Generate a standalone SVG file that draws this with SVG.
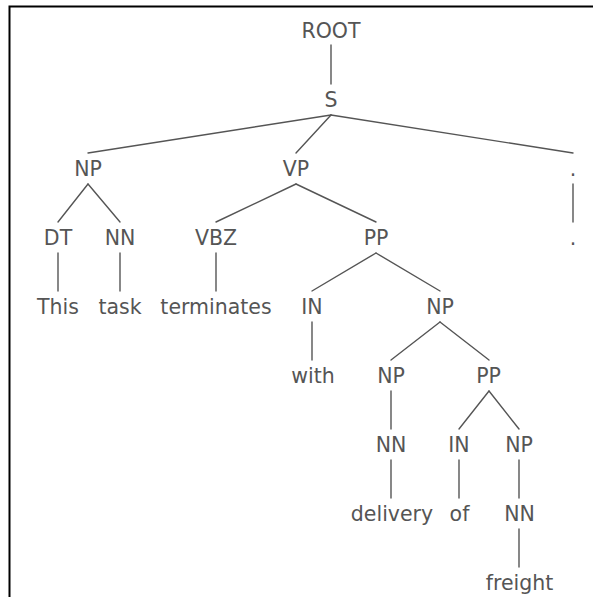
<svg xmlns="http://www.w3.org/2000/svg" width="593" height="597" viewBox="0 0 593 597">
<style>
text{font-family:"DejaVu Sans",Verdana,sans-serif;font-size:20.5px;fill:#555;text-anchor:middle}
.e line{stroke:#555;stroke-width:1.4;stroke-linecap:round}
</style>
<rect width="593" height="597" fill="#fff"/>
<path d="M9.5,597V6.5H593" fill="none" stroke="#000" stroke-width="2"/>
<g class="e" id="edges">
<line x1="331" y1="45" x2="331" y2="84"/>
<line x1="331" y1="115" x2="88" y2="153"/>
<line x1="331" y1="115" x2="296" y2="153"/>
<line x1="331" y1="115" x2="573" y2="153"/>
<line x1="88" y1="184" x2="58" y2="222"/>
<line x1="88" y1="184" x2="120" y2="222"/>
<line x1="58" y1="253" x2="58" y2="291"/>
<line x1="120" y1="253" x2="120" y2="291"/>
<line x1="296" y1="184" x2="216" y2="222"/>
<line x1="296" y1="184" x2="376" y2="222"/>
<line x1="573" y1="184" x2="573" y2="222"/>
<line x1="216" y1="253" x2="216" y2="291"/>
<line x1="376" y1="253" x2="312" y2="291"/>
<line x1="376" y1="253" x2="440" y2="291"/>
<line x1="312" y1="322" x2="312" y2="360"/>
<line x1="440" y1="322" x2="391" y2="360"/>
<line x1="440" y1="322" x2="489" y2="360"/>
<line x1="391" y1="391" x2="391" y2="429"/>
<line x1="489" y1="391" x2="459" y2="429"/>
<line x1="489" y1="391" x2="519" y2="429"/>
<line x1="391" y1="460" x2="391" y2="498"/>
<line x1="459" y1="460" x2="459" y2="498"/>
<line x1="519" y1="460" x2="519" y2="498"/>
<line x1="519" y1="529" x2="519" y2="567"/>
</g>
<g id="n-root"><text x="331" y="38">ROOT</text></g>
<g id="n-s"><text x="331" y="107">S</text></g>
<g id="n-np1"><text x="88" y="176">NP</text></g>
<g id="n-vp"><text x="296" y="176">VP</text></g>
<g id="n-punct"><text x="573" y="176">.</text></g>
<g id="n-dt"><text x="58" y="245">DT</text></g>
<g id="n-nn1"><text x="120" y="245">NN</text></g>
<g id="n-vbz"><text x="216" y="245">VBZ</text></g>
<g id="n-pp1"><text x="376" y="245">PP</text></g>
<g id="n-dot"><text x="573" y="245">.</text></g>
<g id="n-this"><text x="58" y="314">This</text></g>
<g id="n-task"><text x="120" y="314">task</text></g>
<g id="n-terminates"><text x="216" y="314">terminates</text></g>
<g id="n-in1"><text x="312" y="314">IN</text></g>
<g id="n-np2"><text x="440" y="314">NP</text></g>
<g id="n-with"><text x="313" y="383">with</text></g>
<g id="n-np3"><text x="391" y="383">NP</text></g>
<g id="n-pp2"><text x="488.5" y="383">PP</text></g>
<g id="n-nn2"><text x="391" y="452">NN</text></g>
<g id="n-in2"><text x="459" y="452">IN</text></g>
<g id="n-np4"><text x="519" y="452">NP</text></g>
<g id="n-delivery"><text x="392" y="521">delivery</text></g>
<g id="n-of"><text x="459.5" y="521">of</text></g>
<g id="n-nn3"><text x="519.5" y="521">NN</text></g>
<g id="n-freight"><text x="519.5" y="590">freight</text></g>
</svg>
